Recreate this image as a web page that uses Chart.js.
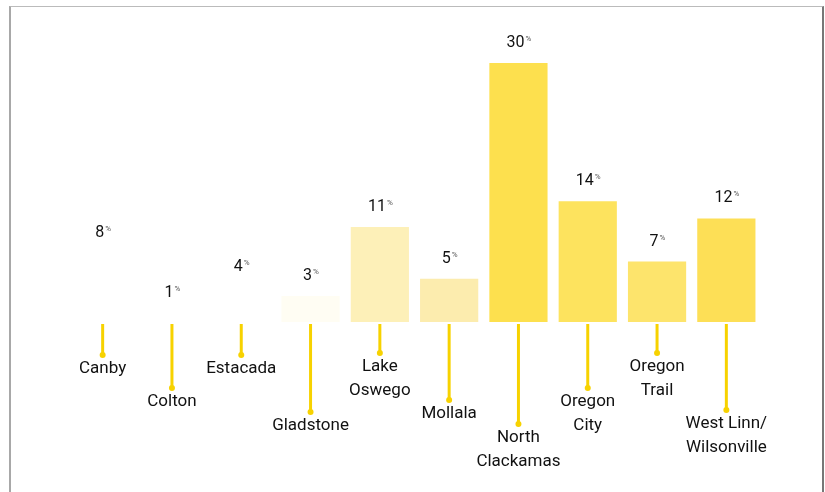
<!DOCTYPE html>
<html>
<head>
<meta charset="utf-8">
<script src="https://cdn.jsdelivr.net/npm/chart.js@4"></script>
<style>
  html, body { margin: 0; padding: 0; background: #fff; }
  #wrap { position: relative; width: 825px; height: 492px; }
  #frame {
    position: absolute; left: 9px; top: 6px; width: 811px; height: 490px;
    border-left: 2px solid #a8a8a8; border-right: 2px solid #777; border-top: 1px solid #bbb;
  }
  canvas { position: absolute; left: 0; top: 0; }
</style>
</head>
<body>
<div id="wrap">
  <div id="frame"></div>
  <canvas id="g-share" width="825" height="492"></canvas>
</div>
<script>
const districts = [
  ['Canby'], ['Colton'], ['Estacada'], ['Gladstone'], ['Lake', 'Oswego'],
  ['Mollala'], ['North', 'Clackamas'], ['Oregon', 'City'], ['Oregon', 'Trail'],
  ['West Linn/', 'Wilsonville']
];
const shares = [8, 1, 4, 3, 11, 5, 30, 14, 7, 12];

// how far below the bars each name sits (the leader line ends there)
const drops = [33, 66, 33, 90, 31, 78, 102, 66, 31, 88];
const barColors = [
  'rgba(255,255,255,0)', 'rgba(255,255,255,0)', 'rgba(255,255,255,0)', '#fffdf3',
  '#fdf0b8', '#fcecae', '#fde04e', '#fde35e', '#fde46c', '#fddf56'
];

const labelsPlugin = {
  id: 'labels',
  afterDatasetsDraw(chart) {
    const ctx = chart.ctx;
    const bars = chart.getDatasetMeta(0).data;
    ctx.save();
    bars.forEach((bar, i) => {
      // value above bar, with a tiny % sign
      const num = String(shares[i]);
      ctx.font = '16px Roboto';
      ctx.fillStyle = '#111';
      ctx.textBaseline = 'middle';
      const w = ctx.measureText(num).width;
      ctx.font = '8px Roboto';
      const pw = ctx.measureText('%').width;
      const x0 = bar.x - (w + pw) / 2;
      const ty = bar.y - 20;
      ctx.font = '16px Roboto';
      ctx.textAlign = 'left';
      ctx.fillText(num, x0, ty);
      ctx.font = '8px Roboto';
      ctx.fillStyle = '#555';
      ctx.fillText('%', x0 + w + 1, ty - 4);

      // leader line and name
      const base = bar.base;
      const end = base + drops[i];
      ctx.strokeStyle = '#f7d200';
      ctx.lineWidth = 3;
      ctx.beginPath();
      ctx.moveTo(bar.x, base + 2);
      ctx.lineTo(bar.x, end);
      ctx.stroke();
      ctx.fillStyle = '#f7d200';
      ctx.beginPath();
      ctx.arc(bar.x, end, 3, 0, Math.PI * 2);
      ctx.fill();

      ctx.font = '17px Roboto';
      ctx.fillStyle = '#111';
      ctx.textAlign = 'center';
      districts[i].forEach((line, k) => {
        ctx.fillText(line, bar.x, end + 14 + k * 24);
      });
    });
    ctx.restore();
  }
};

new Chart(document.getElementById('g-share').getContext('2d'), {
  type: 'bar',
  data: {
    labels: districts.map(d => d.join(' ')),
    datasets: [{
      data: shares,
      backgroundColor: barColors,
      borderWidth: 0,
      barPercentage: 0.84,
      categoryPercentage: 1
    }]
  },
  options: {
    responsive: false,
    animation: false,
    layout: { padding: { left: 68, right: 64, top: 63, bottom: 170 } },
    plugins: { legend: { display: false }, tooltip: { enabled: false } },
    scales: {
      x: { display: false },
      y: { display: false, min: 0, max: 30 }
    }
  },
  plugins: [labelsPlugin]
});
</script>
</body>
</html>
